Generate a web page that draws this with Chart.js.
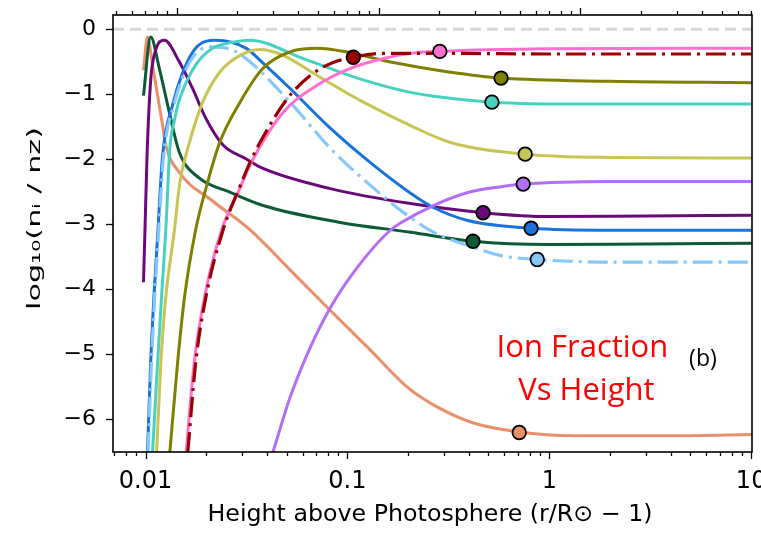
<!DOCTYPE html>
<html>
<head>
<meta charset="utf-8">
<script src="https://cdn.jsdelivr.net/npm/chart.js@4.4.0/dist/chart.umd.min.js"></script>
<style>
  html, body { margin: 0; padding: 0; background: #fff; }
  #wrap { width: 761px; height: 535px; }
</style>
</head>
<body>
<div id="wrap"><canvas id="ionChart" width="761" height="535"></canvas></div>
<script>
// axis ranges and tick labels
const xRange = [0.0069, 10.1];
const yRange = [-6.5, 0.22];
const xMajorTicks = [0.01, 0.1, 1, 10];
const yTicks = [0, -1, -2, -3, -4, -5, -6];
const topAxisFactor = 1.427; // top axis is shifted against the bottom one

const xTitle = 'Height above Photosphere (r/R⊙ − 1)';
const yTitle = 'log₁₀(nᵢ / nz)';

// ion curves: [height above photosphere, log10 ion fraction]
const salmonIon = [[0.00977,-0.63],[0.01023,-0.12],[0.01083,-0.55],[0.01215,-1.48],[0.0126,-1.78],[0.0147,-2.2],[0.0215,-2.64],[0.0329,-3.08],[0.052,-3.7],[0.0791,-4.27],[0.1296,-4.93],[0.203,-5.53],[0.287,-5.83],[0.418,-6.05],[0.70,-6.19],[1.33,-6.25],[4.2,-6.25],[10.1,-6.23]];
const darkGreenIon = [[0.00977,-1.02],[0.0106,-0.12],[0.0117,-0.6],[0.0131,-1.27],[0.0147,-1.89],[0.0185,-2.29],[0.026,-2.5],[0.0382,-2.71],[0.0922,-2.97],[0.2056,-3.12],[0.419,-3.26],[1.0,-3.31],[3,-3.3],[10.1,-3.29]];
const purpleIon = [[0.00977,-3.89],[0.00992,-3.17],[0.0102,-1.83],[0.0108,-0.55],[0.0124,-0.17],[0.0147,-0.5],[0.0171,-0.91],[0.0199,-1.37],[0.0242,-1.78],[0.0314,-1.99],[0.0382,-2.14],[0.0823,-2.45],[0.2056,-2.68],[0.47,-2.82],[1.0,-2.88],[3,-2.87],[10.1,-2.86]];
const blueIon = [[0.01023,-6.5],[0.0106,-5.14],[0.011,-4.12],[0.01147,-3.2],[0.01215,-1.94],[0.0136,-1.17],[0.0153,-0.66],[0.0177,-0.29],[0.0223,-0.17],[0.0314,-0.29],[0.0382,-0.52],[0.052,-0.91],[0.0823,-1.52],[0.13,-2.05],[0.2056,-2.52],[0.267,-2.74],[0.395,-2.94],[0.813,-3.06],[2,-3.09],[10.1,-3.09]];
const lightBlueIon = [[0.0103,-6.5],[0.0107,-5.14],[0.0111,-4.12],[0.01157,-3.2],[0.0123,-1.94],[0.0138,-1.17],[0.0166,-0.5],[0.0208,-0.27],[0.0271,-0.32],[0.0329,-0.5],[0.052,-1.12],[0.0823,-1.83],[0.13,-2.4],[0.198,-2.86],[0.267,-3.12],[0.419,-3.35],[0.577,-3.48],[0.872,-3.54],[2,-3.58],[10.1,-3.58]];
const turquoiseIon = [[0.01083,-6.5],[0.01147,-5.14],[0.012,-4.12],[0.0126,-3.09],[0.0132,-1.83],[0.0139,-1.4],[0.0148,-1.06],[0.0177,-0.55],[0.0215,-0.29],[0.0271,-0.2],[0.0329,-0.17],[0.0605,-0.45],[0.112,-0.75],[0.2056,-0.97],[0.3,-1.05],[0.52,-1.12],[1.5,-1.15],[10.1,-1.15]];
const yellowIon = [[0.01135,-6.5],[0.0119,-5.14],[0.0126,-4.12],[0.0139,-3.09],[0.0148,-2.35],[0.0165,-1.74],[0.0192,-1.12],[0.0233,-0.66],[0.0294,-0.4],[0.0369,-0.31],[0.048,-0.4],[0.0708,-0.71],[0.12,-1.12],[0.2056,-1.48],[0.324,-1.74],[0.76,-1.92],[2,-1.97],[10.1,-1.98]];
const oliveIon = [[0.0132,-6.5],[0.0144,-5.14],[0.0156,-4.12],[0.0177,-3.09],[0.0199,-2.45],[0.0233,-1.74],[0.0294,-1.12],[0.0382,-0.6],[0.0539,-0.33],[0.0708,-0.29],[0.1,-0.35],[0.151,-0.48],[0.2056,-0.56],[0.324,-0.66],[0.577,-0.75],[2,-0.8],[10.1,-0.82]];
const pinkIon = [[0.0159,-6.5],[0.0174,-5.14],[0.0196,-4.12],[0.0238,-3.09],[0.029,-2.48],[0.0329,-2.09],[0.048,-1.28],[0.0708,-0.86],[0.1035,-0.6],[0.151,-0.45],[0.2056,-0.37],[0.287,-0.34],[1,-0.3],[10.1,-0.29]];
const darkRedIon = [[0.0162,-6.5],[0.0177,-5.14],[0.0199,-4.12],[0.0242,-3.09],[0.0294,-2.41],[0.0329,-2.05],[0.0369,-1.74],[0.0503,-1.07],[0.0655,-0.71],[0.085,-0.51],[0.107,-0.43],[0.151,-0.37],[0.3,-0.37],[1,-0.38],[10.1,-0.38]];
const lightPurpleIon = [[0.0428,-6.5],[0.052,-5.66],[0.0655,-4.89],[0.0823,-4.28],[0.112,-3.66],[0.163,-3.09],[0.183,-2.98],[0.267,-2.71],[0.395,-2.51],[0.577,-2.42],[0.743,-2.38],[2,-2.34],[10.1,-2.34]];

// circle markers on each curve
const markerX = [0.107, 0.287, 0.577, 0.52, 0.76, 0.743, 0.47, 0.813, 0.419, 0.872, 0.71];
const markerY = [-0.43, -0.34, -0.75, -1.12, -1.92, -2.38, -2.82, -3.06, -3.26, -3.54, -6.2];
const markerColors = ['#9b0000', '#ff6fcf', '#808000', '#45d3c0', '#c8c455', '#b36ef8', '#6a0a78', '#1a72db', '#0c5a36', '#87c8fa', '#e9906b'];

const toPoints = arr => arr.map(p => ({ x: p[0], y: p[1] }));

function curve(arr, color, dash) {
  return {
    type: 'line',
    data: toPoints(arr),
    borderColor: color,
    borderWidth: dash ? 3.2 : 3,
    borderDash: dash || [],
    pointRadius: 0,
    fill: false,
    cubicInterpolationMode: 'monotone'
  };
}

const lines = [
  curve(salmonIon, '#e9906b'),
  curve(darkGreenIon, '#0c5a36'),
  curve(purpleIon, '#6a0a78'),
  curve(blueIon, '#1a72db'),
  curve(lightBlueIon, '#87c8fa', [20, 6, 3, 6]),
  curve(turquoiseIon, '#45d3c0'),
  curve(yellowIon, '#c8c455'),
  curve(oliveIon, '#808000'),
  curve(pinkIon, '#ff6fcf'),
  curve(darkRedIon, '#9b0000', [20, 6, 3, 6]),
  curve(lightPurpleIon, '#b36ef8')
];
// later curves sit on top
lines.forEach((d, i) => { d.order = 100 - i; });

const datasets = [
  {
    type: 'scatter',
    data: markerX.map((x, i) => ({ x: x, y: markerY[i] })),
    pointRadius: 6.8,
    pointBackgroundColor: markerColors,
    pointBorderColor: '#000',
    pointBorderWidth: 1.8,
    showLine: false,
    order: 0
  },
  ...lines,
  {
    type: 'line',
    data: [{ x: xRange[0], y: 0 }, { x: xRange[1], y: 0 }],
    borderColor: '#d6d6d6',
    borderWidth: 3,
    borderDash: [11, 6],
    pointRadius: 0,
    order: 200
  }
];

function logTickValues(min, max) {
  const out = [];
  for (let e = -3; e <= 1; e++) {
    for (let k = 1; k <= 9; k++) {
      const v = k * Math.pow(10, e);
      if (v >= min * 0.999 && v <= max * 1.001) out.push({ v: v, major: k === 1 });
    }
  }
  return out;
}

// text squeezed or stretched to the width it has in the figure
function fitText(ctx, text, cx, cy, font, width, rotate) {
  ctx.save();
  ctx.translate(cx, cy);
  if (rotate) ctx.rotate(-Math.PI / 2);
  ctx.font = font;
  const w = ctx.measureText(text).width;
  ctx.scale(width / w, 1);
  ctx.textAlign = 'center';
  ctx.fillText(text, 0, 0);
  ctx.restore();
}

const framePlugin = {
  id: 'frame',
  afterDraw(chart) {
    const ctx = chart.ctx;
    const a = chart.chartArea;
    const x = chart.scales.x, x2 = chart.scales.x2, y = chart.scales.y;
    ctx.save();
    ctx.strokeStyle = '#000';
    ctx.lineWidth = 1.3;
    // bottom ticks
    logTickValues(x.min, x.max).forEach(t => {
      const px = Math.round(x.getPixelForValue(t.v)) + 0.5;
      ctx.beginPath();
      ctx.moveTo(px, a.bottom);
      ctx.lineTo(px, a.bottom + (t.major ? 7 : 4));
      ctx.stroke();
    });
    // top ticks
    logTickValues(x2.min, x2.max).forEach(t => {
      const px = Math.round(x2.getPixelForValue(t.v)) + 0.5;
      ctx.beginPath();
      ctx.moveTo(px, a.top);
      ctx.lineTo(px, a.top - (t.major ? 7 : 4));
      ctx.stroke();
    });
    // left ticks
    yTicks.forEach(v => {
      const py = Math.round(y.getPixelForValue(v)) + 0.5;
      ctx.beginPath();
      ctx.moveTo(a.left - 7, py);
      ctx.lineTo(a.left, py);
      ctx.stroke();
    });
    ctx.lineWidth = 1.6;
    ctx.strokeRect(a.left, a.top, a.right - a.left, a.bottom - a.top);

    // axis titles
    ctx.fillStyle = '#000';
    ctx.textBaseline = 'alphabetic';
    fitText(ctx, xTitle, 430, 521, '23px "DejaVu Sans"', 445, false);
    ctx.textBaseline = 'middle';
    fitText(ctx, yTitle, 35.5, 218.5, '18px "DejaVu Sans"', 183, true);

    // annotation text
    ctx.textAlign = 'center';
    ctx.textBaseline = 'alphabetic';
    ctx.fillStyle = '#ff0000';
    ctx.font = '31px "Open Sans"';
    ctx.fillText('Ion Fraction', x.getPixelForValue(1.46), y.getPixelForValue(-5.04));
    ctx.fillText('Vs Height', x.getPixelForValue(1.528), y.getPixelForValue(-5.7));
    ctx.fillStyle = '#000';
    ctx.font = '23px "Open Sans"';
    ctx.fillText('(b)', x.getPixelForValue(5.77), y.getPixelForValue(-5.18));
    ctx.restore();
  }
};

new Chart(document.getElementById('ionChart'), {
  type: 'line',
  data: { datasets: datasets },
  options: {
    responsive: false,
    animation: false,
    events: [],
    layout: { padding: { left: 0, right: 9, top: 0, bottom: 0 } },
    plugins: { legend: { display: false }, tooltip: { enabled: false } },
    scales: {
      x: {
        type: 'logarithmic',
        position: 'bottom',
        min: xRange[0],
        max: xRange[1],
        grid: { display: false, drawTicks: false },
        border: { display: false },
        afterBuildTicks: s => { s.ticks = xMajorTicks.map(v => ({ value: v })); },
        afterFit: s => { s.height = 83; s.paddingLeft = 0; s.paddingRight = 0; },
        ticks: { autoSkip: false, maxRotation: 0, padding: 15, color: '#000', font: { family: 'DejaVu Sans', size: 24 }, callback: v => String(v) },
        title: { display: false }
      },
      x2: {
        type: 'logarithmic',
        position: 'top',
        min: xRange[0] / topAxisFactor,
        max: xRange[1] / topAxisFactor,
        grid: { display: false, drawTicks: false },
        border: { display: false },
        ticks: { display: false },
        afterFit: s => { s.height = 15; s.paddingLeft = 0; s.paddingRight = 0; }
      },
      y: {
        type: 'linear',
        min: yRange[0],
        max: yRange[1],
        grid: { display: false, drawTicks: false },
        border: { display: false },
        afterBuildTicks: s => { s.ticks = yTicks.map(v => ({ value: v })); },
        afterFit: s => { s.width = 113; s.paddingTop = 0; s.paddingBottom = 0; },
        ticks: { padding: 17, color: '#000', font: { family: 'DejaVu Sans', size: 22 }, callback: v => (v === 0 ? '0' : '−' + Math.abs(v)) },
        title: { display: false }
      }
    }
  },
  plugins: [framePlugin]
});
</script>
</body>
</html>
